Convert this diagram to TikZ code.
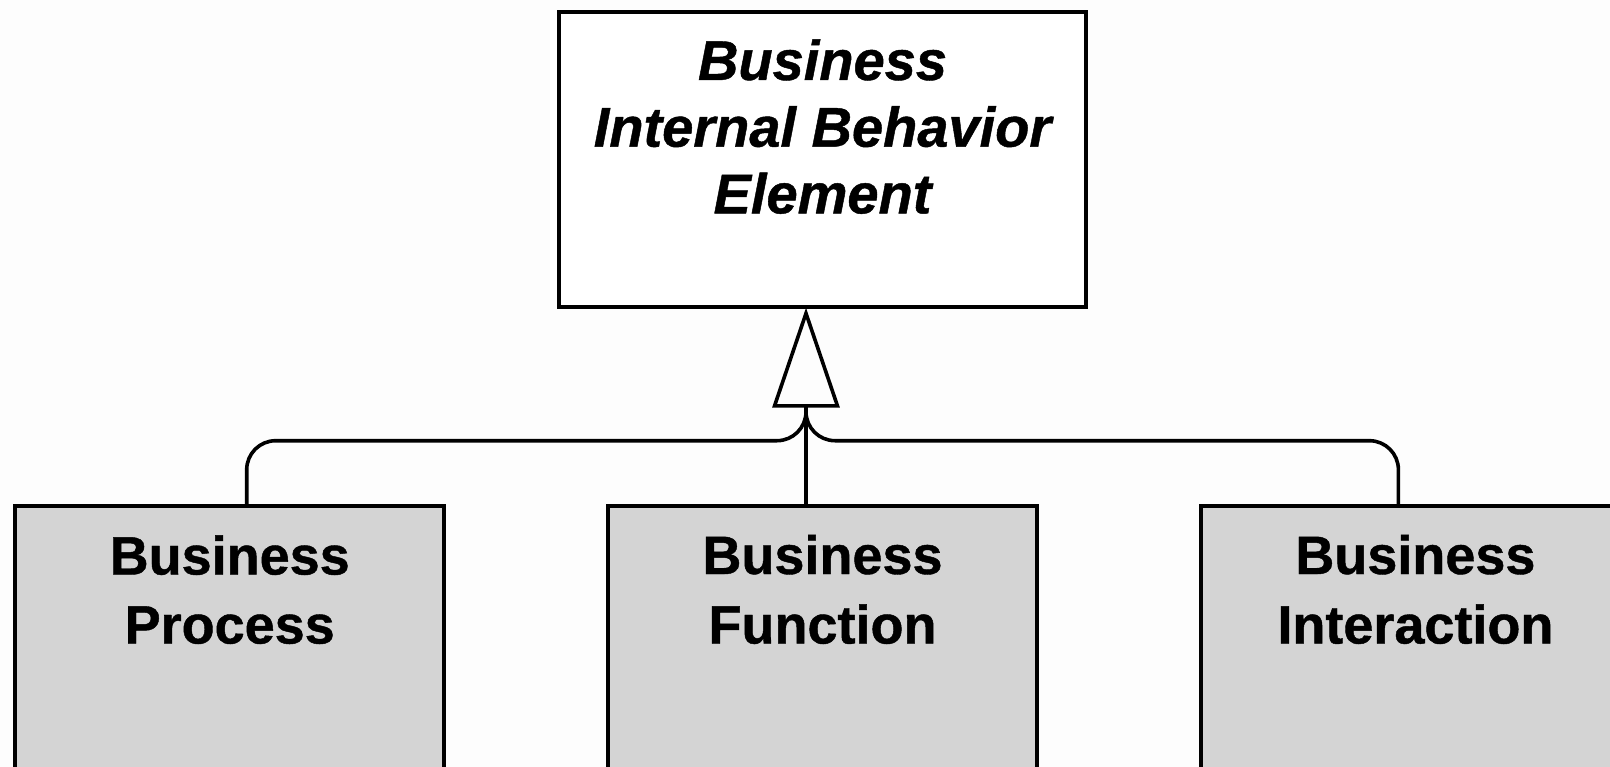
\documentclass[tikz,border=0pt]{standalone}
\usepackage{fontspec}
\setmainfont{Liberation Sans}[BoldFeatures={FakeBold=0.8}, BoldItalicFeatures={FakeBold=0.8}]
\usetikzlibrary{arrows.meta}
\definecolor{bg}{HTML}{FDFDFD}
\definecolor{boxgray}{HTML}{D4D4D4}
\tikzset{
  abstractbox/.style={draw=black, line width=4.3pt, fill=white, rectangle, inner sep=0pt, outer sep=0pt, minimum width=527pt, minimum height=295pt},
  conbox/.style={draw=black, line width=4.3pt, fill=boxgray, rectangle, inner sep=0pt, outer sep=0pt, minimum width=429pt, minimum height=294pt},
  toptext/.style={anchor=base, inner sep=0pt, font=\fontsize{56}{66}\selectfont\bfseries\itshape},
  boxtext/.style={anchor=base, inner sep=0pt, font=\fontsize{54}{64}\selectfont\bfseries},
  conn/.style={draw=black, line width=3.6pt},
  spec/.style={conn, rounded corners=29pt},
}
\begin{document}
\begin{tikzpicture}[x=1pt, y=-1pt]
  \clip (0,0) rectangle (1610,767);
  \fill[bg] (0,0) rectangle (1610,767);
  % boxes
  \node[abstractbox] (top) at (822.5,159.2) {};
  \node[conbox] (left) at (229.7,653) {};
  \node[conbox] (mid) at (822.5,653) {};
  \node[conbox] (right) at (1415.4,653) {};
  % texts
  \node[toptext] (t1) at (822.5,80) {Business};
  \node[toptext] (t2) at (822.5,146.7) {Internal Behavior};
  \node[toptext] (t3) at (822.5,213.3) {Element};
  \node[boxtext] (l1) at (229.7,574.5) {Business};
  \node[boxtext] (l2) at (229.7,643.5) {Process};
  \node[boxtext] (m1) at (822.5,574) {Business};
  \node[boxtext] (m2) at (822.5,643.5) {Function};
  \node[boxtext] (r1) at (1415.4,574) {Business};
  \node[boxtext] (r2) at (1415.4,643.5) {Interaction};
  % connectors
  \coordinate (apex) at ([xshift=-16.5pt, yshift=-1pt]top.south);
  \coordinate (base) at ([yshift=-100pt]apex);
  \draw[spec] ([xshift=17pt]left.north) |- ([yshift=-33pt]base) -- (base);
  \draw[spec] ([xshift=-17pt]right.north) |- ([yshift=-33pt]base) -- (base);
  \draw[conn, -{Triangle[open, length=100pt, width=67pt, line join=miter]}] (apex |- mid.north) -- (apex);
\end{tikzpicture}
\end{document}
